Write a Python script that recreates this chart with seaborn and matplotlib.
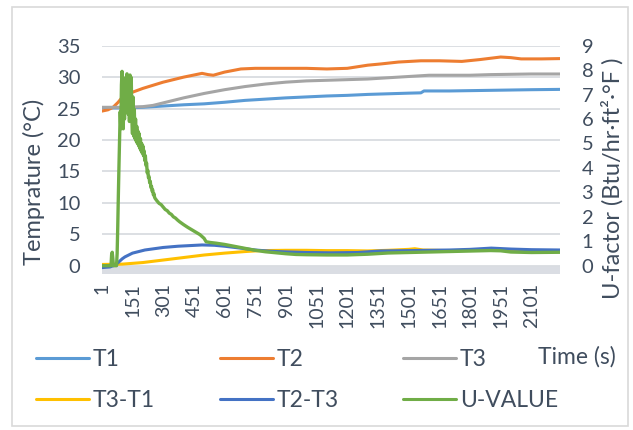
import matplotlib
matplotlib.use("Agg")
import matplotlib.pyplot as plt
import numpy as np
import pandas as pd
import seaborn as sns
from matplotlib.lines import Line2D
from matplotlib.patches import Rectangle

# ---- measured series (time in s, temperatures in °C) ----
t1_time = [1, 100, 200, 300, 400, 500, 600, 700, 800, 900, 1000, 1100, 1200,
           1300, 1400, 1500, 1560, 1575, 1700, 1800, 1900, 2000, 2100, 2240]
t1_vals = [25.1, 25.1, 25.2, 25.4, 25.6, 25.75, 26.0, 26.3, 26.5, 26.7, 26.85, 27.0, 27.1,
           27.25, 27.35, 27.45, 27.5, 27.8, 27.8, 27.85, 27.9, 27.95, 28.0, 28.05]

t2_time = [1, 30, 55, 80, 100, 150, 200, 300, 400, 490, 520, 545, 600, 680, 750, 900,
           1000, 1100, 1200, 1300, 1365, 1450, 1560, 1650, 1760, 1850, 1950, 2000, 2050,
           2150, 2240]
t2_vals = [24.6, 24.8, 25.2, 26.0, 26.8, 27.6, 28.2, 29.2, 30.0, 30.6, 30.4, 30.3, 30.8,
           31.3, 31.4, 31.4, 31.4, 31.3, 31.4, 31.9, 32.1, 32.4, 32.6, 32.6, 32.5, 32.8,
           33.2, 33.1, 32.9, 32.9, 32.95]

t3_time = [1, 100, 200, 250, 300, 400, 500, 600, 700, 800, 900, 1000, 1100, 1200, 1300,
           1400, 1500, 1600, 1700, 1800, 1900, 2000, 2100, 2240]
t3_vals = [25.2, 25.2, 25.3, 25.5, 25.9, 26.7, 27.4, 28.0, 28.5, 28.9, 29.2, 29.4, 29.5,
           29.6, 29.7, 29.9, 30.1, 30.3, 30.3, 30.3, 30.4, 30.45, 30.5, 30.5]

d31_time = [1, 100, 200, 300, 400, 500, 600, 700, 775, 900, 1000, 1100, 1200, 1300, 1400,
            1500, 1530, 1570, 1700, 1800, 1900, 2000, 2100, 2240]
d31_vals = [0.2, 0.25, 0.5, 0.9, 1.3, 1.7, 2.0, 2.25, 2.4, 2.45, 2.45, 2.4, 2.4, 2.35, 2.45,
            2.6, 2.7, 2.5, 2.4, 2.45, 2.5, 2.4, 2.35, 2.4]

d23_time = [1, 40, 64, 80, 100, 113, 150, 211, 300, 373, 490, 550, 600, 677, 750, 824,
            900, 1000, 1119, 1250, 1365, 1500, 1600, 1700, 1800, 1904, 2000, 2100, 2240]
d23_vals = [-0.3, -0.2, 0.1, 0.5, 1.1, 1.4, 2.0, 2.5, 2.9, 3.1, 3.3, 3.25, 3.1, 2.8, 2.5,
            2.3, 2.2, 2.1, 2.05, 2.1, 2.35, 2.4, 2.45, 2.5, 2.6, 2.8, 2.65, 2.55, 2.5]

# U-factor (Btu/hr·ft²·°F), secondary axis
u_time = [1, 45, 48, 51, 54, 57, 72, 75, 78, 81, 84, 87, 90, 93, 96, 99, 102, 105, 108,
          111, 114, 117, 120, 123, 126, 129, 132, 135, 138, 141, 144, 147, 150, 153, 156,
          159, 162, 165, 168, 171, 174, 177, 180, 183, 186, 189, 192, 195, 198, 201, 204,
          207, 210, 213, 216, 219, 222, 225, 228, 231, 234, 237, 240, 243, 246, 249, 252,
          255, 258, 261, 270, 280, 290, 300, 310, 320, 330, 340, 350, 360, 370, 380, 390,
          400, 420, 440, 460, 480, 500, 510, 530, 560, 600, 650, 700, 750, 800, 850, 900,
          950, 1000, 1100, 1200, 1300, 1400, 1500, 1600, 1700, 1800, 1900, 1950, 2000,
          2100, 2240]
u_vals = [0.0, 0.0, 0.45, 0.55, 0.3, 0.0, 0.0, 0.5, 1.6, 2.9, 4.1, 5.2, 6.3, 5.6, 7.4,
          7.95, 6.1, 5.6, 7.5, 6.0, 7.2, 7.7, 6.3, 7.85, 6.8, 6.2, 7.6, 5.9, 7.8, 6.4, 7.7,
          6.0, 5.4, 6.9, 5.3, 6.4, 5.2, 6.0, 5.1, 5.7, 5.0, 5.5, 4.9, 5.4, 4.8, 5.2, 4.7,
          5.0, 4.6, 4.9, 4.5, 4.7, 4.3, 4.5, 4.1, 4.2, 3.8, 3.9, 3.6, 3.65, 3.4, 3.45, 3.2,
          3.25, 3.05, 3.1, 2.9, 2.95, 2.8, 2.75, 2.65, 2.55, 2.5, 2.4, 2.3, 2.25, 2.15, 2.1,
          2.0, 1.95, 1.87, 1.8, 1.74, 1.68, 1.57, 1.47, 1.37, 1.27, 1.12, 0.98, 0.95, 0.92,
          0.87, 0.79, 0.71, 0.63, 0.57, 0.53, 0.49, 0.46, 0.45, 0.44, 0.44, 0.47, 0.52,
          0.54, 0.56, 0.58, 0.6, 0.62, 0.61, 0.56, 0.54, 0.55]

series_names = ["T1", "T2", "T3", "T3-T1", "T2-T3"]
series_colors = ["#5B9BD5", "#ED7D31", "#A5A5A5", "#FFC000", "#4472C4"]
u_name = "U-VALUE"
u_color = "#70AD47"

x_ticks = list(range(1, 2102, 150))
left_ticks = list(range(0, 36, 5))
right_ticks = list(range(0, 10))

# ---- long-form table for the temperature axis ----
frames = []
for name, tt, vv in zip(series_names,
                        [t1_time, t2_time, t3_time, d31_time, d23_time],
                        [t1_vals, t2_vals, t3_vals, d31_vals, d23_vals]):
    frames.append(pd.DataFrame({"time": tt, "value": vv, "series": name}))
temps = pd.concat(frames, ignore_index=True)
uframe = pd.DataFrame({"time": u_time, "value": u_vals})

sns.set_style("white")
plt.rcParams["font.family"] = ["Lato", "DejaVu Sans"]
TEXT = "#404D5E"
GRID = "#D9DCE1"

W, H = 633, 430
fig = plt.figure(figsize=(W / 100, H / 100), dpi=100)
ax = fig.add_axes([102 / W, 1 - 274 / H, 458 / W, (274 - 45.7) / H])

ymin_left = -1.32
ax.axhspan(ymin_left, 0, color="#DADDE3", lw=0, zorder=0.5)

sns.lineplot(data=temps, x="time", y="value", hue="series", hue_order=series_names,
             palette=dict(zip(series_names, series_colors)), estimator=None,
             linewidth=2.2, legend=False, ax=ax)

ax2 = ax.twinx()
sns.lineplot(data=uframe, x="time", y="value", color=u_color, estimator=None,
             linewidth=2.4, legend=False, ax=ax2)

ax.set_xlim(1, 2240)
ax.set_ylim(ymin_left, 35)
ax2.set_ylim(ymin_left * 9 / 35, 9)
ax.set_xticks(x_ticks)
ax.set_xticklabels([str(v) for v in x_ticks])
ax.set_yticks(left_ticks)
ax2.set_yticks(right_ticks)

ax.grid(axis="y", color=GRID, lw=1.3)
ax.grid(axis="x", visible=False)
ax2.grid(False)
for a in (ax, ax2):
    for s in a.spines.values():
        s.set_visible(False)
    a.set_xlabel("")
    a.set_ylabel("")

ax.tick_params(axis="y", length=0, pad=15.5, labelsize=14.5, labelcolor=TEXT)
ax2.tick_params(axis="y", length=0, pad=15.5, labelsize=14.5, labelcolor=TEXT)
ax.tick_params(axis="x", length=0, pad=6.3, labelsize=14, labelcolor=TEXT,
               labelrotation=90)

fig.text(34 / W, 1 - 181.5 / H, "Temprature (°C)", rotation=90, ha="center",
         va="center", fontsize=17, color=TEXT)
fig.text(612 / W, 1 - 178.5 / H, "U-factor (Btu/hr·ft²·°F )", rotation=90,
         ha="center", va="center", fontsize=17, color=TEXT)
fig.text(538 / W, 1 - 357 / H, "Time (s)", ha="left", va="center", fontsize=16.5,
         color=TEXT)

# legend: three columns of two entries
color_of = dict(zip(series_names + [u_name], series_colors + [u_color]))
columns = [("T1", "T3-T1"), ("T2", "T2-T3"), ("T3", u_name)]
col_x = [36, 219.5, 403]
fs = 16.5
fs_px = fs * 100 / 72
for names, x0 in zip(columns, col_x):
    handles = [Line2D([], [], color=color_of[n], lw=2.2) for n in names]
    fig.legend(handles, list(names), loc="center left",
               bbox_to_anchor=(x0 / W, 1 - 380 / H), frameon=False, borderpad=0,
               borderaxespad=0, handlelength=53 / fs_px, handletextpad=4 / fs_px,
               labelspacing=0.9, fontsize=fs, labelcolor=TEXT)

fig.patches.append(Rectangle((12 / W, 1 - 426 / H), (628 - 12) / W, (426 - 7) / H,
                             transform=fig.transFigure, fill=False,
                             edgecolor="#D9D9D9", lw=1.2))

fig.savefig("out.png", dpi=100)
